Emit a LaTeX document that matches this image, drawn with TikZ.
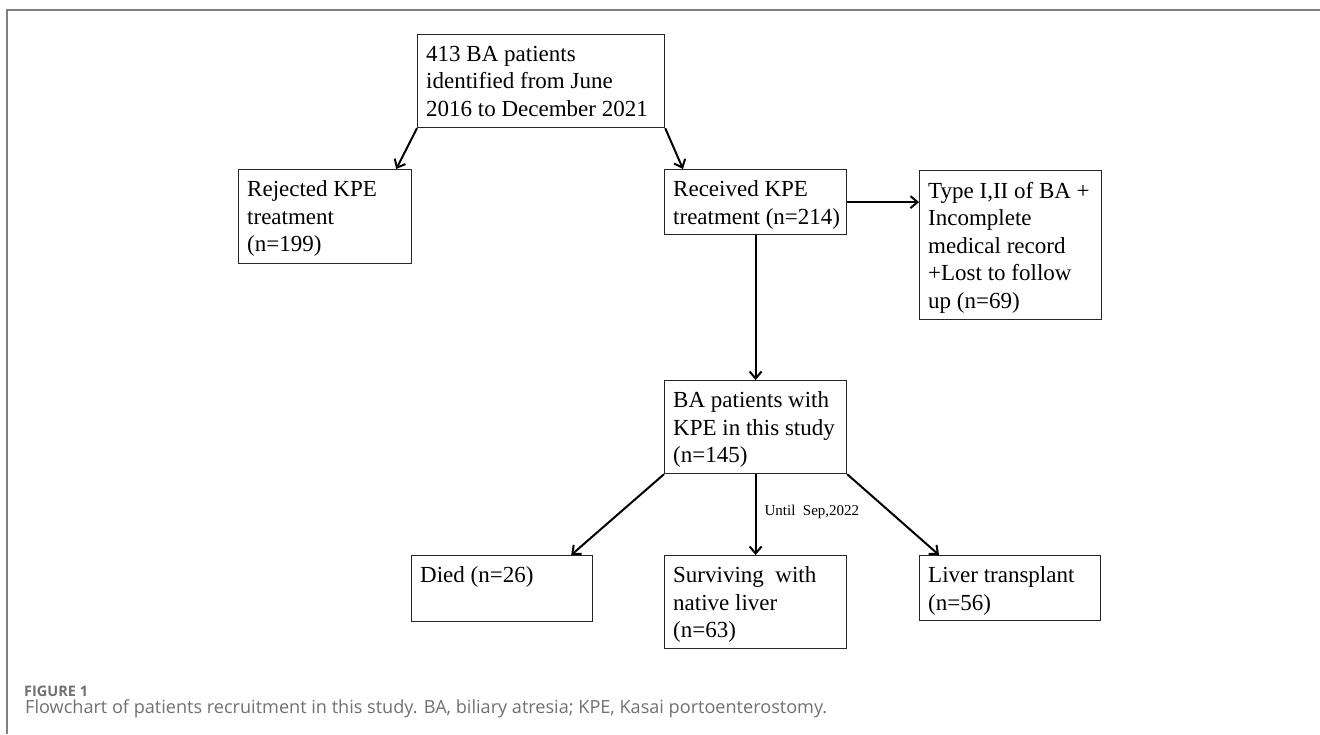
\documentclass[tikz,border=0pt]{standalone}
\usepackage{fontspec}
\setmainfont{Liberation Serif}
\newfontfamily\capfont{Open Sans}
\usetikzlibrary{arrows.meta}

\definecolor{framegray}{RGB}{128,128,128}
\definecolor{capgray}{RGB}{112,112,112}

\tikzset{
  box/.style={draw=black!85, line width=1.2pt, anchor=north west, inner sep=0pt},
  txt/.style={anchor=north west, align=left, inner xsep=9pt, inner ysep=11.8pt,
    font=\fontsize{23}{27.5}\selectfont},
  arr/.style={line width=2pt, -{Straight Barb[length=7pt,width=12pt]}},
  captxt/.style={anchor=base west, inner sep=0pt, text=capgray},
}

\begin{document}
\begin{tikzpicture}[x=1pt,y=-1pt]
\useasboundingbox (0,0) rectangle (1320,734);
% frame
\draw[framegray, line width=2pt] (7,734) -- (7,10) -- (1320,10);

% boxes
\node[box, minimum width=247pt, minimum height=93pt] (src) at (417,34) {};
\node[txt] (src-t) at (src.north west) {413 BA patients\\identified from June\\2016 to December 2021};

\node[box, minimum width=173pt, minimum height=94pt] (rej) at (238,169) {};
\node[txt] (rej-t) at (rej.north west) {Rejected KPE\\treatment\\(n=199)};

\node[box, minimum width=182pt, minimum height=65pt] (rec) at (664,169) {};
\node[txt] (rec-t) at (rec.north west) {Received KPE\\treatment (n=214)};

\node[box, minimum width=182pt, minimum height=149pt] (typ) at (919,170) {};
\node[txt] (typ-t) at (typ.north west) {Type I,II of BA +\\Incomplete\\medical record\\+Lost to follow\\up (n=69)};

\node[box, minimum width=182pt, minimum height=93pt] (bap) at (664,380) {};
\node[txt] (bap-t) at (bap.north west) {BA patients with\\KPE in this study\\(n=145)};

\node[box, minimum width=181pt, minimum height=66pt] (die) at (411,555) {};
\node[txt] (die-t) at (die.north west) {Died (n=26)};

\node[box, minimum width=182pt, minimum height=93pt] (sur) at (664,555) {};
\node[txt] (sur-t) at (sur.north west) {Surviving~ with\\native liver\\(n=63)};

\node[box, minimum width=181pt, minimum height=65pt] (liv) at (919,555) {};
\node[txt] (liv-t) at (liv.north west) {Liver transplant\\(n=56)};

% arrows
\draw[arr] (src.south west) -- ([xshift=-16pt]rej.north east);
\draw[arr] (src.south east) -- ([xshift=19pt]rec.north west);
\draw[arr] (rec.east) -- (rec.east -| typ.west);
\draw[arr] (rec.south) -- (bap.north);
\draw[arr] (bap.south west) -- ([xshift=-22pt]die.north east);
\draw[arr] (bap.south) -- node[right, inner xsep=8pt, yshift=3pt, font=\fontsize{15}{18}\selectfont] (until) {Until~~Sep,2022} (sur.north);
\draw[arr] (bap.south east) -- ([xshift=20pt]liv.north west);

% caption
\node[captxt, font=\capfont\bfseries\fontsize{14.5}{16}\selectfont] (fig) at (24,696) {FIGURE 1};
\node[captxt, font=\capfont\fontsize{18.1}{20}\selectfont] (cpt) at (25,713) {Flowchart of patients recruitment in this study. BA, biliary atresia; KPE, Kasai portoenterostomy.};
\end{tikzpicture}
\end{document}
